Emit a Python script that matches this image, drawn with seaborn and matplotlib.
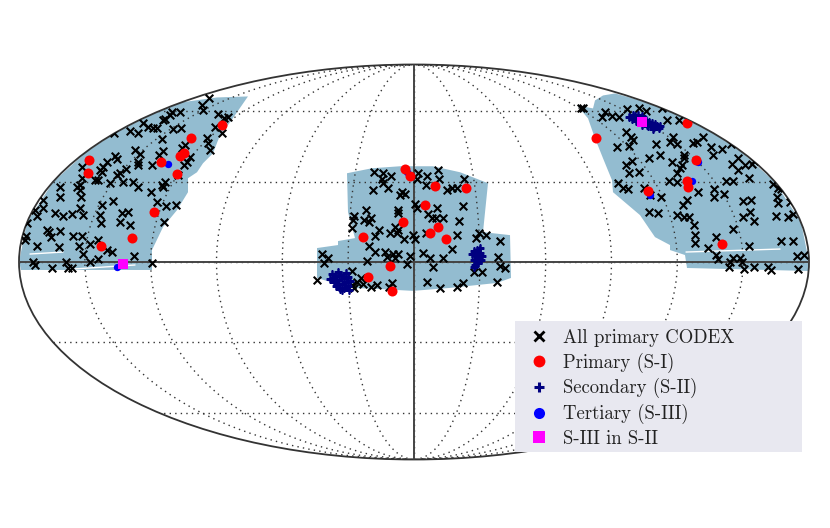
import numpy as np
import pandas as pd
import matplotlib
matplotlib.use('Agg')
import matplotlib.pyplot as plt
from matplotlib.lines import Line2D
from matplotlib.patches import Rectangle
import seaborn as sns

# Values are planar Mollweide offsets
# (half-width 395, half-height 198), turned into lon/lat below
codex_x = [-205,-212,-211,-196,-186,-190,-234,-242,-244,-251,-249,-271,-266,-261,-257,-241,-233,-284,-276,-300,
           -252,-199,-192,-207,-206,-204,-229,-232,-251,-255,-279,-274,-224,-227,-230,-299,-297,-307,-311,-314,
           -332,-332,-276,-276,-262,-288,-294,-297,-312,-319,-316,-304,-291,-281,-276,-249,-251,-252,-236,-334,
           -337,-334,-354,-354,-333,-263,-301,-257,-248,-238,-312,-334,-371,-371,-379,-377,-359,-351,-342,-331,
           -314,-292,-286,-313,-294,-284,-250,-387,-367,-365,-354,-363,-388,-389,-341,-332,-316,-324,-377,-355,
           -335,-302,-307,-331,-280,-381,-379,-348,-346,-342,-362,-324,-316,-262,
           -40,-31,-32,-23,-31,-26,-41,-12,-14,-9,4,3,13,24,25,12,33,38,43,50,1,3,23,49,14,-48,-60,-61,-50,-43,
           -45,-16,-16,18,22,29,45,-62,-35,-39,-19,-16,-24,-17,-10,-1,1,12,43,65,72,62,86,-45,-39,-92,-86,-90,
           -29,-27,-21,-16,-19,-4,9,16,29,38,-47,-7,19,-62,-97,-53,-57,-62,-60,-51,-43,-37,-22,-25,13,26,43,49,
           60,68,83,84,86,91,
           167,169,191,188,198,205,213,225,232,248,253,265,212,217,219,215,203,242,259,256,263,246,235,270,270,
           279,283,289,297,299,308,318,218,212,215,225,258,268,266,263,255,263,284,204,209,214,230,236,247,273,
           269,300,300,310,312,319,324,318,324,331,338,340,335,359,364,368,363,364,377,329,337,336,329,340,362,
           374,379,235,244,263,270,275,280,281,281,302,319,294,335,367,379,383,390,302,304,316,319,326,328,315,
           330,340,354,357,384]
codex_y = [164,157,152,148,145,144,150,150,147,142,143,139,135,134,134,133,134,131,129,129,
           123,135,129,124,119,112,117,114,111,107,112,108,105,100,97,106,103,100,95,92,
           95,84,100,97,97,93,89,87,90,82,82,79,80,80,75,80,75,77,87,77,
           75,72,75,65,65,70,61,60,56,57,57,54,62,54,52,46,49,46,48,47,
           47,49,50,39,40,37,40,39,32,30,31,25,26,22,26,26,22,18,16,15,
           16,10,12,8,6,0,-3,0,-6,-6,-6,0,3,-1,
           90,89,83,86,79,74,72,70,67,68,89,83,86,92,83,77,72,74,74,83,58,54,54,56,48,52,46,42,42,44,
           40,52,49,44,44,44,41,34,32,26,35,32,29,29,23,27,23,29,27,29,27,24,21,16,10,8,4,-1,
           10,5,8,8,4,6,9,4,4,13,1,-2,-5,-9,-18,-16,-20,-23,-26,-22,-25,-23,-21,-25,-20,-26,-25,-21,
           -10,-10,-20,5,-4,-6,
           154,154,150,145,146,145,153,154,151,154,142,142,130,125,122,116,115,118,125,120,118,107,104,107,104,
           119,120,125,115,107,113,118,101,97,89,90,100,97,94,89,81,80,70,79,74,73,74,67,65,62,
           57,73,65,68,81,81,104,98,92,97,98,101,84,78,74,73,65,59,60,61,62,50,45,41,46,
           45,48,50,49,47,45,45,37,27,19,25,33,14,16,21,21,6,7,7,3,0,4,4,0,-5,
           -7,-5,-5,-8,-7]

primary_x = [-325,-326,-253,-237,-223,-230,-234,-192,-260,-282,-313,
             -9,-4,21,52,11,-11,24,16,32,-51,-24,-46,-22,
             182,273,282,273,274,234,308]
primary_y = [102,89,100,88,124,109,106,137,50,24,16,
             93,86,76,74,57,40,35,29,23,25,-4,-15,-29,
             124,139,102,81,75,71,18]

secondary_x = [215,218,221,222,225,226,229,230,232,233,235,237,238,240,241,243,245,246,219,224,228,234,239,228,223,
               -84,-82,-80,-78,-78,-76,-75,-74,-73,-72,-70,-70,-68,-68,-66,-66,-64,-65,-72,-76,-80,
               58,60,60,61,62,63,64,64,66,66,67,68,60]
secondary_y = [145,143,146,141,144,140,143,139,142,137,140,136,139,135,138,136,134,136,147,147,146,136,133,137,143,
               -17,-12,-20,-14,-24,-10,-18,-27,-13,-22,-16,-26,-11,-20,-24,-15,-19,-28,-28,-22,-16,
               8,11,2,-3,7,12,4,-1,9,14,2,6,-5]

tertiary_x = [-246,-297,284,278,236,-7]
tertiary_y = [98,-5,100,81,67,90]

both_x = [-291,228]
both_y = [-2,140]

# survey footprint outlines
west_x = [-393,-395,-387,-361,-328,-298,-258,-233,-197,-166,-184,-194,-201,-211,-217,-226,-226,-237,-251,-262,-262]
west_y = [-8,0,40,80,110,130,150,160,165,166,140,127,109,99,90,84,70,52,35,12,-8]
mid_x = [-67,-42,-14,19,46,74,69,96,97,83,36,-1,-37,-64,-97,-97,-76,-76,-59,-66]
mid_y = [89,94,96,96,90,79,30,27,-16,-21,-26,-29,-27,-26,-16,14,17,21,24,50]
east_x = [181,189,201,233,258,298,328,361,387,395,394,273,271,256,256,241,226,199,198,189,181,174,163,179]
east_y = [162,167,169,160,150,130,110,80,40,0,-9,-6,7,12,17,25,47,70,82,104,124,144,157,154]

# thin gaps in the coverage
streak_x = [[-384,-351],[-340,-279],[272,366]]
streak_y = [[8,10],[-7,-3],[10,13]]

legend_labels = ['All primary CODEX', 'Primary (S-I)', 'Secondary (S-II)', 'Tertiary (S-III)', 'S-III in S-II']


def to_lonlat(x, y):
    # inverse Mollweide
    sin_t = np.clip(np.asarray(y, float) / 198, -1, 1)
    t = np.arcsin(sin_t)
    lat = np.arcsin(np.clip((2 * t + np.sin(2 * t)) / np.pi, -1, 1))
    lon = np.clip(np.pi * np.asarray(x, float) / (395 * np.maximum(np.cos(t), 1e-3)), -np.pi, np.pi)
    return lon, lat


def frame(x, y):
    lon, lat = to_lonlat(x, y)
    return pd.DataFrame({'lon': lon, 'lat': lat})


def outline(xs, ys, closed=True):
    # the geo axes bends long edges, so cut them short to keep them straight on the map
    if closed:
        xs, ys = list(xs) + [xs[0]], list(ys) + [ys[0]]
    px, py = [], []
    for i in range(len(xs) - 1):
        px.extend(np.linspace(xs[i], xs[i + 1], 25))
        py.extend(np.linspace(ys[i], ys[i + 1], 25))
    return to_lonlat(px, py)


sns.set_style('white')
plt.rcParams['font.family'] = ['cmr10', 'DejaVu Serif']
plt.rcParams['axes.formatter.use_mathtext'] = True

fig = plt.figure(figsize=(8.3, 5.28), dpi=100)
ax = fig.add_axes([19 / 830, 68 / 528, 790 / 830, 396 / 528], projection='mollweide')

for xs, ys in [(west_x, west_y), (mid_x, mid_y), (east_x, east_y)]:
    lon, lat = outline(xs, ys)
    ax.fill(lon, lat, color='#93bcd0', lw=0, zorder=1)

for xs, ys in zip(streak_x, streak_y):
    lon, lat = outline(xs, ys, closed=False)
    ax.plot(lon, lat, color='white', lw=1, zorder=1.5)

ax.set_longitude_grid(30)
ax.set_latitude_grid(30)
ax.set_longitude_grid_ends(89.9)
ax.grid(True, color='#333333', linestyle=(0, (1, 3)), linewidth=1, zorder=2)
ax.set_axisbelow(False)
ax.set_xticklabels([])
ax.set_yticklabels([])

ax.plot([-np.pi, np.pi], [0, 0], color='#444444', lw=1.4, zorder=3)
ax.plot([0, 0], [-np.pi / 2, np.pi / 2], color='#444444', lw=1.4, zorder=3)

sns.scatterplot(data=frame(codex_x, codex_y), x='lon', y='lat', ax=ax, marker='x', color='black',
                s=30, linewidth=1.5, zorder=4)
sns.scatterplot(data=frame(tertiary_x, tertiary_y), x='lon', y='lat', ax=ax, marker='o', color='blue',
                s=28, linewidth=0, zorder=4.5)
sns.scatterplot(data=frame(secondary_x, secondary_y), x='lon', y='lat', ax=ax, marker='+', color='navy',
                s=28, linewidth=1.8, zorder=4.6)
sns.scatterplot(data=frame(primary_x, primary_y), x='lon', y='lat', ax=ax, marker='o', color='red',
                s=52, linewidth=0, zorder=5)
sns.scatterplot(data=frame(both_x, both_y), x='lon', y='lat', ax=ax, marker='s', color='magenta',
                s=46, linewidth=0, zorder=6)
ax.set_xlabel('')
ax.set_ylabel('')

for spine in ax.spines.values():
    spine.set_edgecolor('#333333')
    spine.set_linewidth(1.3)

ax.add_patch(Rectangle((515 / 830, 1 - 452 / 528), 287 / 830, 131 / 528, transform=fig.transFigure,
                       facecolor='#e8e8f0', edgecolor='none', clip_on=False, zorder=9))
handles = [
    Line2D([], [], linestyle='', marker='x', color='black', markersize=7, markeredgewidth=2),
    Line2D([], [], linestyle='', marker='o', color='red', markersize=8.5, markeredgewidth=0),
    Line2D([], [], linestyle='', marker='+', color='navy', markersize=7, markeredgewidth=2.2),
    Line2D([], [], linestyle='', marker='o', color='blue', markersize=8, markeredgewidth=0),
    Line2D([], [], linestyle='', marker='s', color='magenta', markersize=8.5, markeredgewidth=0),
]
leg = ax.legend(handles, legend_labels, loc='upper left', bbox_to_anchor=(515 / 830, 1 - 321 / 528),
                bbox_transform=fig.transFigure, frameon=False, fontsize=13.5, labelspacing=0.3,
                handletextpad=0.44, borderpad=0.42, borderaxespad=0, handlelength=1.7)
leg.set_zorder(10)
for text in leg.get_texts():
    text.set_color('#222222')

fig.savefig('out.png', dpi=100)
